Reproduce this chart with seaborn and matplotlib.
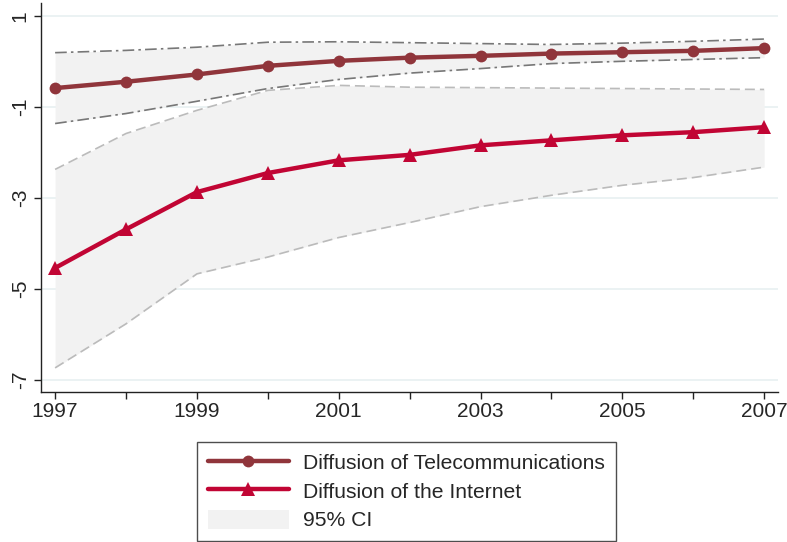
import numpy as np
import pandas as pd
import matplotlib
matplotlib.use('Agg')
import matplotlib.pyplot as plt
import seaborn as sns
from matplotlib.lines import Line2D
from matplotlib.patches import Patch

# --------------------------------------------------
# Data
# --------------------------------------------------
years = list(range(1997, 2008))

telecom = [-0.58, -0.44, -0.28, -0.09, 0.02, 0.09, 0.13, 0.18, 0.21, 0.24, 0.30]
telecom_hi = [0.20, 0.25, 0.32, 0.43, 0.44, 0.42, 0.40, 0.38, 0.41, 0.45, 0.50]
telecom_lo = [-1.36, -1.14, -0.87, -0.59, -0.39, -0.25, -0.15, -0.04, 0.01, 0.05, 0.09]

internet = [-4.54, -3.69, -2.87, -2.45, -2.17, -2.05, -1.84, -1.73, -1.62, -1.55, -1.44]
internet_hi = [-2.37, -1.58, -1.07, -0.63, -0.52, -0.56, -0.57, -0.58, -0.59, -0.60, -0.61]
internet_lo = [-6.74, -5.77, -4.67, -4.30, -3.87, -3.54, -3.19, -2.94, -2.72, -2.55, -2.32]

y_ticks = [1, -1, -3, -5, -7]
x_ticks = [1997, 1999, 2001, 2003, 2005, 2007]

df = pd.DataFrame({'year': years, 'telecom': telecom, 'internet': internet})

# --------------------------------------------------
# Style
# --------------------------------------------------
sns.set_style('white')
plt.rcParams['font.family'] = ['Liberation Sans', 'DejaVu Sans']
plt.rcParams['axes.unicode_minus'] = False

c_tel = '#90353b'
c_int = '#c10534'
c_band = '#f2f2f2'
c_grid = '#e8f0f1'

fig = plt.figure(figsize=(7.87, 5.42), dpi=100)
ax = fig.add_axes([0.052, 0.276, 0.937, 0.719])

# CI bands
ax.fill_between(years, internet_lo, internet_hi, color=c_band, lw=0, zorder=1)
ax.fill_between(years, telecom_lo, telecom_hi, color=c_band, lw=0, zorder=1)

# CI borders
ax.plot(years, internet_hi, color='#bbbbbb', lw=1.2, dashes=(6, 3), zorder=2)
ax.plot(years, internet_lo, color='#bbbbbb', lw=1.2, dashes=(6, 3), zorder=2)
ax.plot(years, telecom_hi, color='#777777', lw=1.2, dashes=(7, 2.5, 1.5, 2.5), zorder=2)
ax.plot(years, telecom_lo, color='#777777', lw=1.2, dashes=(7, 2.5, 1.5, 2.5), zorder=2)

# main lines
sns.lineplot(data=df, x='year', y='telecom', ax=ax, color=c_tel, lw=3.2,
             marker='o', markersize=8.5, markeredgewidth=0, zorder=4)
sns.lineplot(data=df, x='year', y='internet', ax=ax, color=c_int, lw=3.2,
             marker='^', markersize=9.5, markeredgewidth=0, zorder=4)

# axes
ax.set_xlim(1996.8, 2007.2)
ax.set_ylim(-7.28, 1.3)
ax.set_xticks(x_ticks)
ax.set_xticks(years, minor=True)
ax.set_yticks(y_ticks)
ax.set_xlabel('')
ax.set_ylabel('')
ax.tick_params(axis='both', which='both', direction='out', length=5, width=1,
               color='#222222', labelsize=15, bottom=True, left=True)
ax.tick_params(axis='x', pad=2)
ax.tick_params(axis='y', pad=3)
for lab in ax.get_yticklabels():
    lab.set_rotation(90)
    lab.set_va('center')
for y in y_ticks:
    ax.axhline(y, color=c_grid, lw=1.2, zorder=0)

for s in ['top', 'right']:
    ax.spines[s].set_visible(False)
for s in ['left', 'bottom']:
    ax.spines[s].set_color('#222222')
    ax.spines[s].set_linewidth(1)

# legend
handles = [
    Line2D([], [], color=c_tel, lw=3.2, marker='o', markersize=8.5, markeredgewidth=0),
    Line2D([], [], color=c_int, lw=3.2, marker='^', markersize=9.5, markeredgewidth=0),
    Patch(facecolor=c_band, edgecolor='none'),
]
labels = ['Diffusion of Telecommunications', 'Diffusion of the Internet', '95% CI']
leg = fig.legend(handles, labels, loc='lower center', bbox_to_anchor=(0.5165, 0.002),
                 frameon=True, fancybox=False, fontsize=15.2, handlelength=3.85,
                 handleheight=1.0, handletextpad=0.67, labelspacing=0.38,
                 borderpad=0.5, borderaxespad=0.0)
leg.get_frame().set_edgecolor('#222222')
leg.get_frame().set_linewidth(1)

plt.savefig('out.png', dpi=100)
